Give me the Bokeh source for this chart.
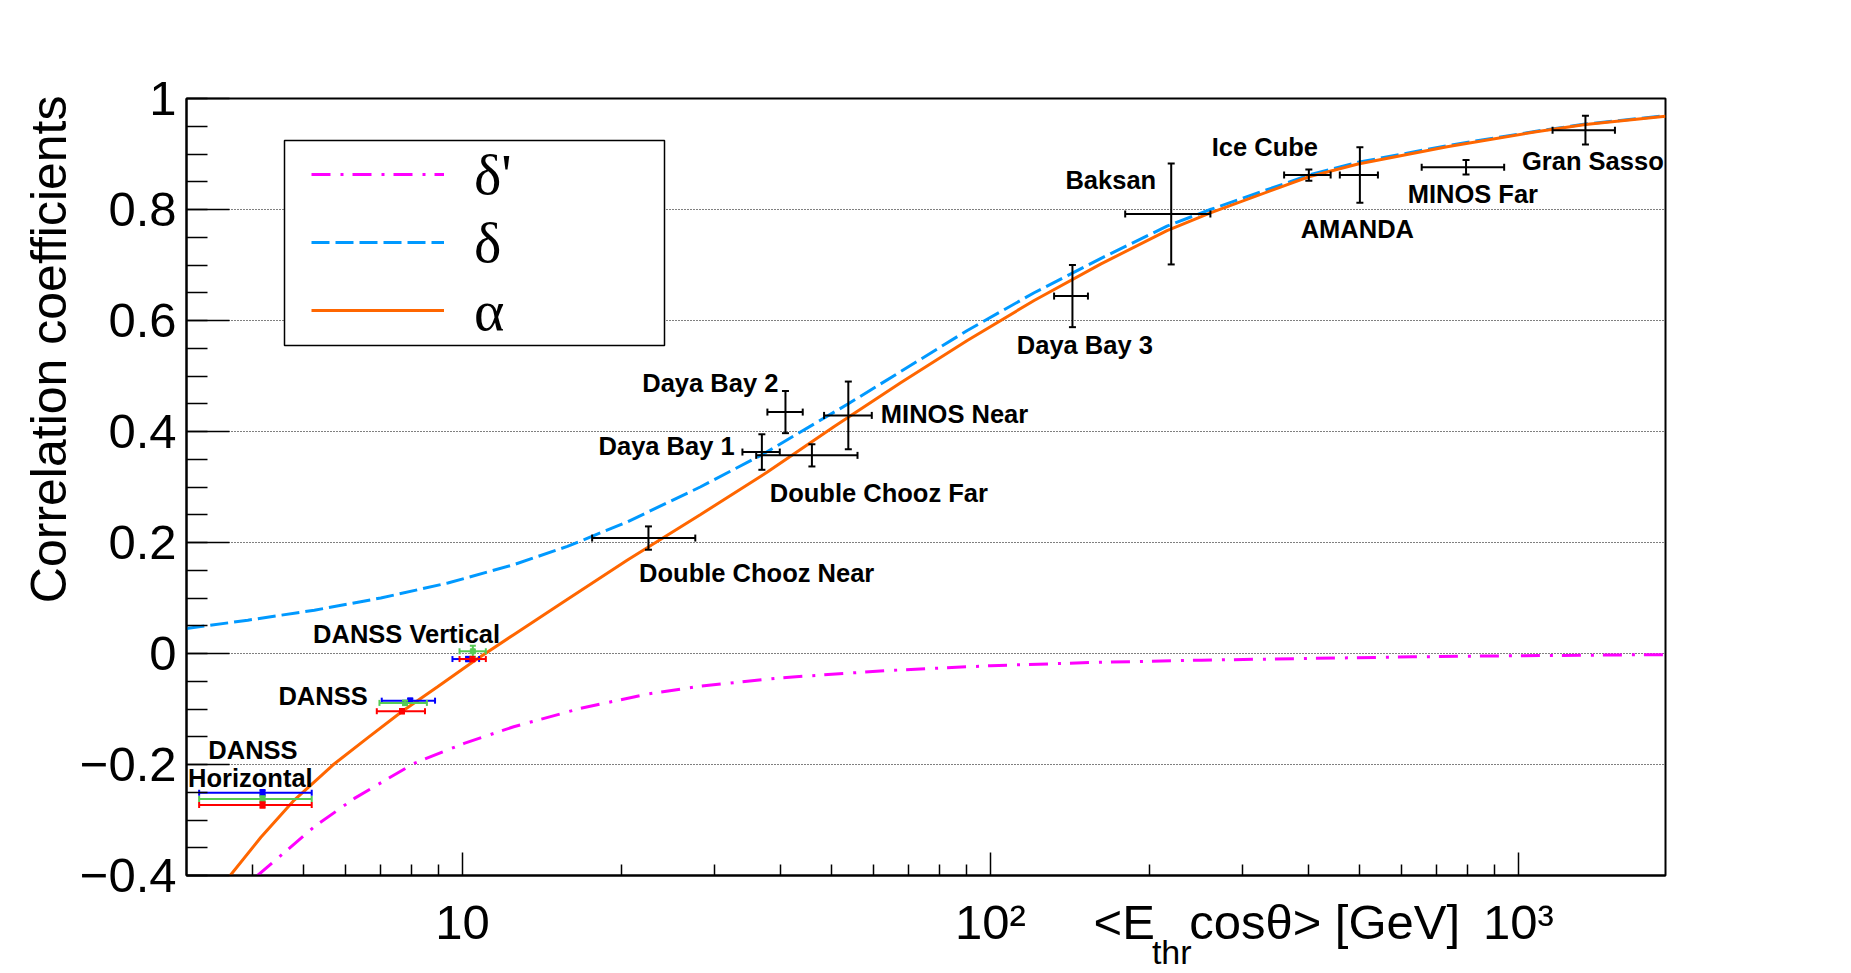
import numpy as np
from bokeh.plotting import figure
from bokeh.models import (Range1d, FixedTicker, Whisker, TeeHead, ColumnDataSource,
                          Legend, LegendItem, BoxAnnotation, LogAxis, Title)
from bokeh.core.properties import value
from bokeh.embed import file_html
from bokeh.resources import INLINE

# ---------------- data ----------------
# alpha (orange, solid)
alpha_x = [3.63, 4.15, 4.80, 5.68, 6.61, 7.69, 8.97, 10.5, 12.5, 15.6, 20.5, 28.2, 37.8,
           50.6, 67.6, 90.4, 121, 162, 216, 261, 401, 497, 733, 1081, 1340, 1900]
alpha_y = [-0.400, -0.331, -0.264, -0.201, -0.152, -0.104, -0.060, -0.014, 0.034, 0.094,
           0.168, 0.250, 0.327, 0.409, 0.488, 0.564, 0.636, 0.702, 0.762, 0.794, 0.859,
           0.882, 0.913, 0.940, 0.953, 0.968]

# delta (blue, dashed)
delta_x = [3.0, 3.92, 5.24, 7.0, 9.38, 12.5, 15.8, 20.5, 28.2, 36.9, 53.8, 67.6, 90.4,
           121, 162, 216, 261, 401, 497, 733, 1081, 1340, 1900]
delta_y = [0.045, 0.060, 0.078, 0.100, 0.127, 0.160, 0.193, 0.237, 0.300, 0.358, 0.450,
           0.508, 0.582, 0.650, 0.712, 0.770, 0.800, 0.862, 0.885, 0.915, 0.941, 0.954, 0.969]

# delta' (magenta, dash-dot)
deltap_x = [4.09, 5.24, 6.24, 8.09, 10.07, 12.5, 16.7, 22.4, 28.2, 39.8, 63.1, 100,
            158, 251, 398, 631, 1000, 1900]
deltap_y = [-0.400, -0.312, -0.261, -0.198, -0.162, -0.132, -0.099, -0.073, -0.059,
            -0.044, -0.031, -0.022, -0.016, -0.012, -0.009, -0.006, -0.004, -0.002]

# experiments (black error bars)
exp_x = [22.5, 36.9, 40.9, 45.9, 53.8, 143, 220, 401, 501, 796, 1340]
exp_x_lo = [17.6, 33.9, 37.8, 36.0, 48.4, 132, 180, 360, 459, 656, 1161]
exp_x_hi = [27.6, 39.9, 44.1, 56.0, 59.6, 153, 261, 441, 542, 940, 1524]
exp_y = [0.208, 0.363, 0.435, 0.357, 0.429, 0.644, 0.792, 0.862, 0.862, 0.876, 0.943]
exp_y_err = [0.021, 0.032, 0.038, 0.020, 0.061, 0.056, 0.091, 0.010, 0.050, 0.013, 0.026]

# DANSS (Horizontal, DANSS, Vertical) for three colours
danss_blue_x = [4.18, 7.96, 10.25]
danss_blue_lo = [3.17, 7.03, 9.57]
danss_blue_hi = [5.18, 8.87, 10.75]
danss_blue_y = [-0.251, -0.085, -0.010]
danss_green_x = [4.18, 7.78, 10.46]
danss_green_lo = [3.17, 6.96, 9.87]
danss_green_hi = [5.18, 8.56, 11.07]
danss_green_y = [-0.262, -0.089, 0.004]
danss_red_x = [4.18, 7.68, 10.44]
danss_red_lo = [3.17, 6.88, 9.87]
danss_red_hi = [5.18, 8.49, 11.07]
danss_red_y = [-0.273, -0.104, -0.010]
danss_y_err_blue = [0.005, 0.004, 0.004]
danss_y_err_green = [0.005, 0.004, 0.010]
danss_y_err_red = [0.005, 0.004, 0.004]

# text labels
label_text = ["Daya Bay 2", "Daya Bay 1", "MINOS Near", "Double Chooz Far",
              "Double Chooz Near", "Daya Bay 3", "Baksan", "Ice Cube", "AMANDA",
              "MINOS Far", "Gran Sasso", "DANSS Vertical", "DANSS", "DANSS", "Horizontal"]
label_x = [21.9, 18.1, 62.0, 38.2, 21.6, 112.2, 138.7, 262.5, 387, 617, 1016,
           5.21, 4.48, 3.30, 3.02]
label_y = [0.487, 0.373, 0.432, 0.290, 0.145, 0.556, 0.853, 0.913, 0.765, 0.828,
           0.887, 0.035, -0.076, -0.174, -0.224]

# ticks
x_major = [10, 100, 1000]
x_major_labels = ["10", "10\u00b2", "10\u00b3"]
x_minor = [4, 5, 6, 7, 8, 9, 20, 30, 40, 50, 60, 70, 80, 90,
           200, 300, 400, 500, 600, 700, 800, 900]
y_major = [-0.4, -0.2, 0.0, 0.2, 0.4, 0.6, 0.8, 1.0]
y_major_labels = ["\u22120.4", "\u22120.2", "0", "0.2", "0.4", "0.6", "0.8", "1"]
y_minor = [-0.4, -0.35, -0.3, -0.25, -0.2, -0.15, -0.1, -0.05, 0.0, 0.05, 0.1, 0.15,
           0.2, 0.25, 0.3, 0.35, 0.4, 0.45, 0.5, 0.55, 0.6, 0.65, 0.7, 0.75, 0.8,
           0.85, 0.9, 0.95, 1.0]

# axis titles (x title split in pieces placed along the x scale)
y_title = "Correlation coefficients"
x_title_parts = ["<E", "cos\u03b8> [GeV]"]
x_title_at = [179.2, 429.6]
x_title_sub = "thr"
x_title_sub_at = 220.5

legend_labels = ["\u03b4'", "\u03b4", "\u03b1"]

# ---------------- figure ----------------
FONT = "Liberation Sans"

p = figure(x_axis_type="log", x_range=Range1d(3, 1900), y_range=Range1d(-0.4, 1.0),
           frame_width=1479, frame_height=777,
           min_border_left=186, min_border_right=185, min_border_top=98,
           min_border_bottom=96, output_backend="svg", toolbar_location=None)
p.background_fill_color = "white"
p.border_fill_color = "white"
p.outline_line_color = "black"
p.outline_line_width = 2

xt = FixedTicker(ticks=x_major, minor_ticks=x_minor)
yt = FixedTicker(ticks=y_major, minor_ticks=y_minor)
xa = p.xaxis[0]
ya = p.yaxis[0]
xa.ticker = xt
ya.ticker = yt
ya.major_label_overrides = {t: s for t, s in zip(y_major, y_major_labels)}

for ax in (xa, ya):
    ax.axis_line_width = 2
    ax.axis_line_color = "black"
    ax.major_tick_out = 0
    ax.minor_tick_out = 0
    ax.major_tick_line_width = 1.5
    ax.minor_tick_line_width = 1.5
    ax.major_tick_line_color = "black"
    ax.minor_tick_line_color = "black"
    ax.major_label_text_font = FONT
    ax.major_label_text_color = "black"

xa.major_tick_in = 23
xa.minor_tick_in = 11
# main x axis draws only line and ticks; the labels come from the axes below
xa.major_label_text_font_size = "1px"
xa.major_label_text_alpha = 0
xa.major_label_standoff = 0

ya.major_tick_in = 43
ya.minor_tick_in = 21
ya.major_label_standoff = 10
ya.major_label_text_font_size = "49px"

# tick labels + title pieces on one baseline
lab_ticks = x_major + x_title_at
lab_text = x_major_labels + x_title_parts
xb = LogAxis(ticker=FixedTicker(ticks=lab_ticks, minor_ticks=[]),
             major_label_overrides={t: s for t, s in zip(lab_ticks, lab_text)},
             axis_line_color=None, major_tick_line_color=None,
             minor_tick_line_color=None, major_tick_in=0, major_tick_out=0,
             minor_tick_in=0, minor_tick_out=0, major_label_standoff=19,
             major_label_text_font=FONT, major_label_text_font_size="49px",
             major_label_text_color="black")
p.add_layout(xb, "below")
# subscript of the x title
xc = LogAxis(ticker=FixedTicker(ticks=[x_title_sub_at], minor_ticks=[]),
             major_label_overrides={x_title_sub_at: x_title_sub},
             axis_line_color=None, major_tick_line_color=None,
             minor_tick_line_color=None, major_tick_in=0, major_tick_out=0,
             minor_tick_in=0, minor_tick_out=0, major_label_standoff=-19,
             major_label_text_font=FONT, major_label_text_font_size="34px",
             major_label_text_color="black")
p.add_layout(xc, "below")

# y title at top end of the axis
ytitle = Title(text=y_title, align="right", offset=-3, text_font=FONT,
               text_font_size="50px", text_font_style="normal", text_color="black")
if "standoff" in ytitle.properties():
    ytitle.standoff = 0
p.add_layout(ytitle, "left")

p.xgrid.visible = False
p.ygrid.ticker = yt
p.ygrid.grid_line_color = "black"
p.ygrid.grid_line_width = 1
p.ygrid.grid_line_dash = "1 2"

# curves
r_dp = p.line(deltap_x, deltap_y, line_color="#ff00ff", line_width=3,
              line_dash="19 10 3 9")
r_d = p.line(delta_x, delta_y, line_color="#0099ff", line_width=3, line_dash="18 6")
r_a = p.line(alpha_x, alpha_y, line_color="#ff6600", line_width=3)


def add_errors(xs, xlo, xhi, ys, yerr, color, width, head):
    src = ColumnDataSource(dict(
        x=xs, xlo=xlo, xhi=xhi, y=ys,
        ylo=list(np.array(ys) - np.array(yerr)),
        yhi=list(np.array(ys) + np.array(yerr))))
    p.add_layout(Whisker(source=src, base="y", lower="xlo", upper="xhi",
                         dimension="width", line_color=color, line_width=width,
                         lower_head=TeeHead(size=head, line_color=color, line_width=width),
                         upper_head=TeeHead(size=head, line_color=color, line_width=width),
                         level="glyph"))
    p.add_layout(Whisker(source=src, base="x", lower="ylo", upper="yhi",
                         dimension="height", line_color=color, line_width=width,
                         lower_head=TeeHead(size=head, line_color=color, line_width=width),
                         upper_head=TeeHead(size=head, line_color=color, line_width=width),
                         level="glyph"))
    return src


add_errors(exp_x, exp_x_lo, exp_x_hi, exp_y, exp_y_err, "black", 2, 7)
for (xs, lo, hi, ys, ye, col) in [
        (danss_blue_x, danss_blue_lo, danss_blue_hi, danss_blue_y, danss_y_err_blue, "#0000ff"),
        (danss_green_x, danss_green_lo, danss_green_hi, danss_green_y, danss_y_err_green, "#55cc55"),
        (danss_red_x, danss_red_lo, danss_red_hi, danss_red_y, danss_y_err_red, "#ff0000")]:
    add_errors(xs, lo, hi, ys, ye, col, 2, 6)
    p.scatter(xs, ys, marker="square", size=5, fill_color=col, line_color=col)

# labels
p.text(x=label_x, y=label_y, text=label_text, text_font=value(FONT),
       text_font_style="bold", text_font_size="25.5px", text_color="black",
       text_align="left", text_baseline="alphabetic")

# legend box + legend
box = BoxAnnotation(left=98, right=478, bottom=530, top=735,
                    left_units="screen", right_units="screen",
                    bottom_units="screen", top_units="screen",
                    fill_color="white", fill_alpha=1.0,
                    line_color="black", line_width=1.5, line_alpha=1.0)
p.add_layout(box)
legend = Legend(items=[LegendItem(label=legend_labels[0], renderers=[r_dp]),
                       LegendItem(label=legend_labels[1], renderers=[r_d]),
                       LegendItem(label=legend_labels[2], renderers=[r_a])],
                location=(125, 531), padding=0, spacing=0, margin=0,
                glyph_width=133, glyph_height=68, label_height=68,
                label_standoff=30, border_line_alpha=0, background_fill_alpha=0,
                label_text_font="Liberation Serif", label_text_font_size="58px",
                label_text_color="black")
p.add_layout(legend)

open("out.html", "w").write(file_html(p, INLINE))
